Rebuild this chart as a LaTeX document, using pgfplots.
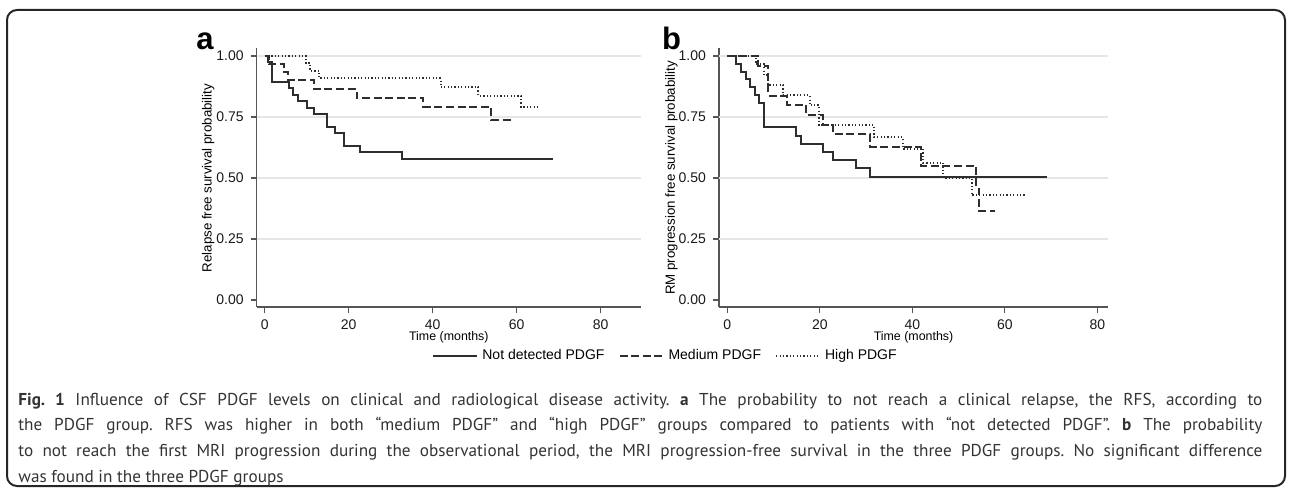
\documentclass[border=0pt]{standalone}
\usepackage{pgfplots}
\pgfplotsset{compat=1.18}
\usepackage{fontspec}
\setmainfont{Liberation Sans}
\newfontfamily\capfont{PT Sans}

\definecolor{axgray}{HTML}{555555}
\definecolor{gridgray}{HTML}{E6E6E6}
\definecolor{curve}{HTML}{2E2E2E}
\definecolor{captext}{HTML}{333333}

% Stata-like Kaplan-Meier panel
\pgfplotsset{
  km/.style={
    scale only axis,
    height=129.5pt,
    ymin=-0.0287, ymax=1.033,
    axis x line*=bottom, axis y line*=left,
    axis line style={-, draw=axgray, line width=0.7pt},
    ytick={0,0.25,0.5,0.75,1},
    yticklabels={0.00,0.25,0.50,0.75,1.00},
    xtick={0,20,40,60,80},
    xticklabels={0,20,40,60,80},
    extra y ticks={0.25,0.5,0.75,1},
    extra y tick labels={},
    extra y tick style={grid=major, major tick length=0pt},
    grid style={draw=gridgray, line width=0.8pt},
    tick align=outside,
    major tick length=3pt,
    tick style={draw=axgray, line width=0.6pt},
    tick label style={font=\fontsize{7}{8}\selectfont, text=black!90},
    xlabel style={font=\fontsize{6.2}{7}\selectfont, at={(axis description cs:0.5,-0.1158)}, anchor=center},
    ylabel style={font=\fontsize{6.65}{8}\selectfont, anchor=center},
    every axis plot/.append style={const plot mark left, no markers, draw=curve, line width=1pt},
  },
  solid km/.style={solid},
  dashed km/.style={dash pattern=on 4pt off 1.8pt},
  dotted km/.style={dash pattern=on 0.6pt off 1.1pt},
}

\begin{document}
\begin{tikzpicture}
\useasboundingbox (0,0) rectangle (646pt,244pt);
\draw[line width=1pt, rounded corners=5pt, draw=black!85] (3.5pt,1pt) rectangle (642.5pt,239pt);

% panel a
\begin{axis}[km,
  at={(128.35pt,90.5pt)}, anchor=south west,
  width=192.15pt,
  xmin=-1.9, xmax=89.6,
  xlabel={Time (months)},
  ylabel={Relapse free survival probability},
  ylabel style={at={(axis description cs:-0.126,0.498)}},
  legend style={at={(axis description cs:1.0664,-0.189)}, anchor=center,
    draw=none, fill=none, legend columns=3,
    font=\fontsize{7}{8}\selectfont,
    /tikz/every even column/.append style={column sep=5pt},
    legend cell align=left},
  legend image code/.code={\draw[#1] (0pt,0pt) -- (22pt,0pt);},
]
\addplot[solid km] coordinates {
  (0,1) (0.9,0.974) (1.8,0.895) (5.7,0.868) (6.7,0.842) (7.9,0.816)
  (10.0,0.789) (11.8,0.763) (14.8,0.711) (16.8,0.684) (18.8,0.632)
  (22.8,0.605) (32.8,0.579) (68.6,0.579)
};
\addplot[dashed km] coordinates {
  (0,1) (0.95,0.967) (4.7,0.935) (5.6,0.900) (11.8,0.864) (21.9,0.828)
  (37.8,0.792) (53.9,0.739) (58.8,0.739)
};
\addplot[dotted km] coordinates {
  (0,1) (9.8,0.970) (10.8,0.939) (13.0,0.908) (41.9,0.872)
  (50.9,0.837) (61.0,0.792) (65.4,0.792)
};
\legend{Not detected PDGF, Medium PDGF, High PDGF}
\end{axis}

% panel b
\begin{axis}[km,
  at={(359.5pt,90.5pt)}, anchor=south west,
  width=194.5pt,
  xmin=-1.8, xmax=82.3,
  xlabel={Time (months)},
  ylabel={RM progression free survival probability},
  ylabel style={at={(axis description cs:-0.122,0.498)}},
]
\addplot[solid km] coordinates {
  (0,1) (1.95,0.966) (2.96,0.936) (3.97,0.904) (4.9,0.873) (5.9,0.840)
  (6.85,0.806) (7.87,0.708) (14.85,0.674) (15.9,0.638) (20.7,0.607)
  (22.8,0.573) (27.9,0.540) (30.9,0.506) (69.1,0.506)
};
\addplot[dashed km] coordinates {
  (0,1) (6.7,0.961) (8.9,0.836) (12.8,0.801) (16.9,0.760) (20.6,0.719)
  (22.9,0.680) (30.9,0.629) (41.8,0.550) (53.8,0.457) (54.4,0.365)
  (57.8,0.365)
};
\addplot[dotted km] coordinates {
  (0,1) (6.2,0.966) (7.9,0.921) (8.9,0.880) (12.1,0.839) (17.8,0.798)
  (19.8,0.716) (31.8,0.667) (37.9,0.621) (42.4,0.562) (46.7,0.500)
  (52.8,0.430) (64.4,0.430)
};
\end{axis}

\node[font=\bfseries\fontsize{15.5}{16}\selectfont, anchor=base] at (102.5pt,219pt) {a};
\node[font=\bfseries\fontsize{15.5}{16}\selectfont, anchor=base] at (335.75pt,219pt) {b};

\node[anchor=base west, inner sep=0pt, text width=622pt, align=justify,
  font=\capfont\fontsize{8.6}{12.9}\selectfont, text=captext] at (9pt,41.5pt)
{\frenchspacing\textbf{Fig.~1} Influence of CSF PDGF levels on clinical and radiological disease activity. \textbf{a} The probability to not reach a clinical relapse, the RFS, according to\linebreak
the PDGF group. RFS was higher in both “medium PDGF” and “high PDGF” groups compared to patients with “not detected PDGF”. \textbf{b} The probability\linebreak
to not reach the first MRI progression during the observational period, the MRI progression-free survival in the three PDGF groups. No significant difference\linebreak
was found in the three PDGF groups};
\end{tikzpicture}
\end{document}
